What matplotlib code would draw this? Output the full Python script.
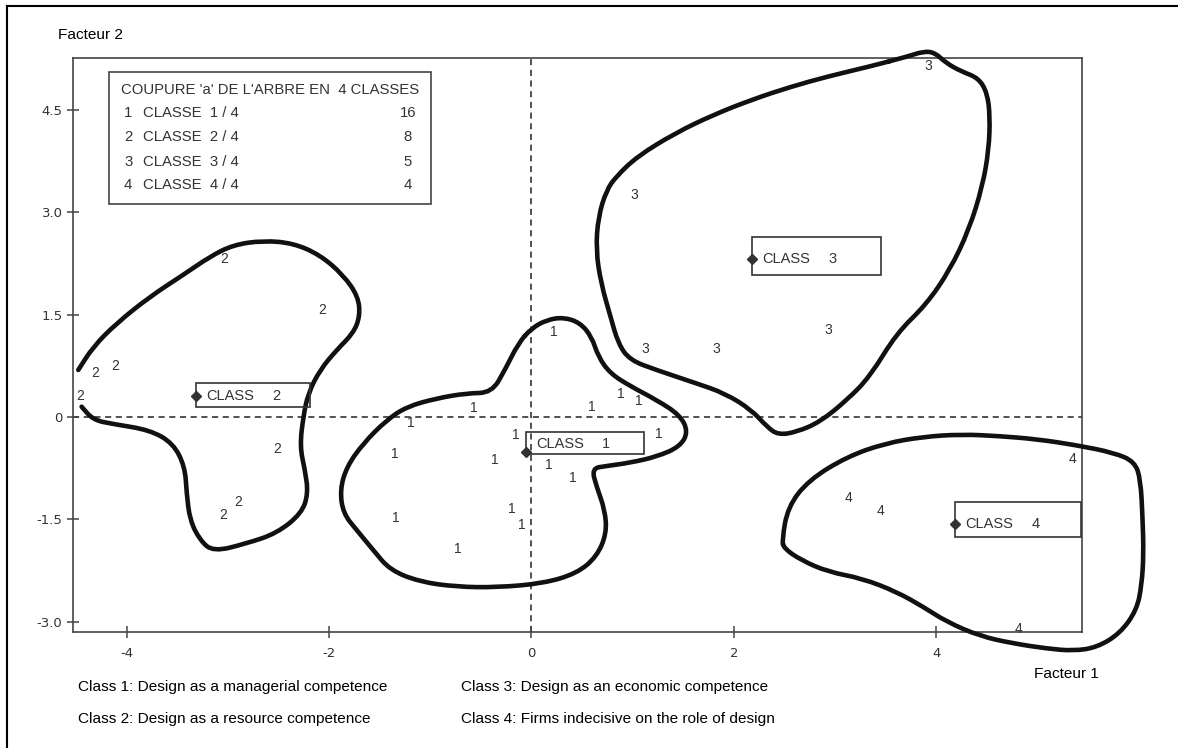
import numpy as np
import matplotlib
matplotlib.use("Agg")
import matplotlib.pyplot as plt
from matplotlib.path import Path
from matplotlib.patches import PathPatch, Rectangle
from matplotlib.lines import Line2D
from matplotlib.transforms import ScaledTranslation
from matplotlib import font_manager as fm

# ---------------------------------------------------------------- data
# individual firms on the first factorial plane (Facteur 1, Facteur 2)
class1_x = [0.22, -0.57, -1.19, 0.60, 0.88, 1.06, 1.26, -0.15,
            -1.35, -0.36, 0.17, 0.41, -1.34, -0.19, -0.10, -0.73]
class1_y = [1.24, 0.13, -0.09, 0.15, 0.33, 0.23, -0.25, -0.26,
            -0.54, -0.63, -0.70, -0.90, -1.48, -1.35, -1.58, -1.93]
class2_x = [-3.04, -2.07, -4.31, -4.11, -4.46, -2.51, -2.90, -3.05]
class2_y = [2.31, 1.57, 0.65, 0.74, 0.31, -0.47, -1.24, -1.44]
class3_x = [3.92, 1.02, 1.12, 1.83, 2.93]
class3_y = [5.14, 3.26, 0.99, 0.99, 1.27]
class4_x = [5.35, 3.13, 3.45, 4.81]
class4_y = [-0.62, -1.19, -1.37, -3.10]

# class centres
centre_x = [-0.05, -3.31, 2.18, 4.19]
centre_y = [-0.51, 0.31, 2.31, -1.57]
class_sizes = [16, 8, 5, 4]

# hand-drawn outlines around each class (Facteur 1, Facteur 2)
outline1_x = [0.002, 0.150, 0.314, 0.479, 0.595, 0.660, 0.776, 0.973, 1.237,
              1.467, 1.549, 1.467, 1.237, 0.973, 0.743, 0.595, 0.644, 0.726,
              0.743, 0.644, 0.447, 0.117, -0.344, -0.739, -1.102, -1.398,
              -1.563, -1.727, -1.860, -1.892, -1.826, -1.662, -1.431, -1.233,
              -0.937, -0.640, -0.393, -0.262, -0.130]
outline1_y = [1.301, 1.422, 1.462, 1.383, 1.177, 0.884, 0.641, 0.455, 0.249,
              0.029, -0.216, -0.435, -0.582, -0.670, -0.718, -0.752, -1.022,
              -1.364, -1.705, -2.048, -2.292, -2.438, -2.497, -2.488, -2.415,
              -2.243, -1.950, -1.657, -1.412, -1.070, -0.729, -0.386, -0.044,
              0.151, 0.274, 0.348, 0.356, 0.689, 1.081]

outline2_x = [-4.478, -4.330, -4.099, -3.770, -3.441, -3.177, -2.947, -2.650,
              -2.354, -2.090, -1.860, -1.711, -1.695, -1.761, -1.925, -2.090,
              -2.206, -2.255, -2.288, -2.238, -2.206, -2.271, -2.518, -2.814,
              -3.144, -3.276, -3.375, -3.407, -3.424, -3.540, -3.770, -4.132,
              -4.330, -4.445]
outline2_y = [0.689, 1.031, 1.374, 1.764, 2.082, 2.350, 2.522, 2.585, 2.547,
              2.375, 2.082, 1.764, 1.471, 1.227, 0.982, 0.689, 0.348, 0.004,
              -0.435, -0.777, -1.119, -1.412, -1.705, -1.852, -1.975, -1.804,
              -1.510, -1.119, -0.729, -0.386, -0.191, -0.103, -0.044, 0.151]

outline3_x = [3.720, 3.871, 3.984, 4.097, 4.248, 4.418, 4.504, 4.531, 4.519,
              4.456, 4.323, 4.135, 3.898, 3.608, 3.344, 3.118, 2.854, 2.628,
              2.439, 2.326, 2.175, 1.911, 1.610, 1.233, 0.969, 0.856, 0.781,
              0.687, 0.637, 0.660, 0.743, 0.837, 1.044, 1.421, 1.798, 2.175,
              2.552, 2.929, 3.344]
outline3_y = [5.283, 5.356, 5.342, 5.186, 5.063, 4.966, 4.746, 4.403, 3.915,
              3.377, 2.742, 2.155, 1.642, 1.227, 0.591, 0.249, -0.069, -0.216,
              -0.264, -0.142, 0.103, 0.348, 0.503, 0.689, 0.836, 1.081, 1.471,
              1.960, 2.449, 2.937, 3.328, 3.523, 3.817, 4.160, 4.428, 4.648,
              4.834, 4.990, 5.136]

outline4_x = [2.476, 2.534, 2.740, 3.118, 3.494, 3.871, 4.248, 4.625, 5.002,
              5.379, 5.755, 5.962, 6.019, 6.038, 6.049, 6.030, 5.980, 5.815,
              5.585, 5.354, 5.091, 4.761, 4.432, 4.103, 3.872, 3.609, 3.268,
              2.929, 2.665, 2.495]
outline4_y = [-1.804, -1.315, -0.924, -0.582, -0.386, -0.289, -0.254, -0.279,
              -0.327, -0.411, -0.523, -0.655, -0.924, -1.462, -1.999, -2.463,
              -2.830, -3.172, -3.377, -3.427, -3.392, -3.318, -3.211, -3.001,
              -2.782, -2.562, -2.365, -2.268, -2.097, -1.925]

x_ticks = [-4, -2, 0, 2, 4]
x_tick_labels = ["-4", "-2", "0", "2", "4"]
y_ticks = [-3.0, -1.5, 0.0, 1.5, 3.0, 4.5]
y_tick_labels = ["-3.0", "-1.5", "0", "1.5", "3.0", "4.5"]

legend_title = "COUPURE 'a' DE L'ARBRE EN  4 CLASSES"
captions = ["Class 1: Design as a managerial competence",
            "Class 2: Design as a resource competence",
            "Class 3: Design as an economic competence",
            "Class 4: Firms indecisive on the role of design"]


# ---------------------------------------------------------------- fonts
def first_font(names):
    for n in names:
        try:
            fm.findfont(fm.FontProperties(family=n), fallback_to_default=False)
            return n
        except ValueError:
            continue
    return "DejaVu Sans"


NARROW = first_font(["Liberation Sans Narrow", "Arial Narrow"])
SANS = first_font(["Liberation Sans", "Arial", "DejaVu Sans"])
narrow_ok = NARROW != "DejaVu Sans"
if not narrow_ok:
    NARROW = SANS

plt.rcParams["axes.unicode_minus"] = False

W, H = 1178, 748
fig = plt.figure(figsize=(W / 100, H / 100), dpi=100)
fig.patch.set_facecolor("white")


def fx(px):
    return px / W


def fy(py):
    return 1 - py / H


ax = fig.add_axes([fx(73), fy(632), fx(1082) - fx(73), fy(58) - fy(632)])
ax.set_xlim(-4.53, 5.44)
ax.set_ylim(-3.15, 5.26)
for sp in ax.spines.values():
    sp.set_color("#444444")
    sp.set_linewidth(1.2)

ax.set_xticks(x_ticks)
ax.set_xticklabels(x_tick_labels)
ax.set_yticks(y_ticks)
ax.set_yticklabels(y_tick_labels)
ax.tick_params(direction="inout", length=9, width=1.1, color="#444444",
               labelsize=9.5, labelcolor="#333333")
ax.tick_params(axis="x", pad=6)
ax.tick_params(axis="y", pad=3)
for lab in ax.get_xticklabels() + ax.get_yticklabels():
    lab.set_family("DejaVu Sans")

# dashed origin axes
ax.axhline(0, color="#222222", lw=1.1, ls=(0, (4, 3)), zorder=1)
ax.axvline(0, color="#222222", lw=1.1, ls=(0, (4, 3)), zorder=1)


# ---------------------------------------------------------------- outlines
def smooth_path(xs, ys, closed=True):
    pts = np.column_stack([xs, ys])
    n = len(pts)
    verts, codes = [], []
    if closed:
        mids = (pts + np.roll(pts, -1, axis=0)) / 2
        verts.append(mids[-1])
        codes.append(Path.MOVETO)
        for i in range(n):
            verts += [pts[i], mids[i]]
            codes += [Path.CURVE3, Path.CURVE3]
    else:
        mids = (pts[:-1] + pts[1:]) / 2
        verts += [pts[0], mids[0]]
        codes += [Path.MOVETO, Path.LINETO]
        for i in range(1, n - 1):
            verts += [pts[i], mids[i]]
            codes += [Path.CURVE3, Path.CURVE3]
        verts.append(pts[-1])
        codes.append(Path.LINETO)
    return Path(verts, codes)


outlines = [(outline1_x, outline1_y, True),
            (outline2_x, outline2_y, False),
            (outline3_x, outline3_y, True),
            (outline4_x, outline4_y, True)]
for ox, oy, closed in outlines:
    patch = PathPatch(smooth_path(ox, oy, closed), fill=False, lw=3.3,
                      ec="#111111", capstyle="round", joinstyle="round",
                      clip_on=False, zorder=3)
    ax.add_patch(patch)

# ---------------------------------------------------------------- points
groups = [(class1_x, class1_y), (class2_x, class2_y),
          (class3_x, class3_y), (class4_x, class4_y)]
for k, (gx, gy) in enumerate(groups, start=1):
    for x, y in zip(gx, gy):
        ax.text(x, y, str(k), ha="center", va="center", fontsize=10,
                color="#333333", family=SANS, zorder=4)

# ---------------------------------------------------------------- class boxes
# (width, height above centre, height below centre, label shift) in pixels
box_style = [(118, 19.7, 2.3, 8.0), (114, 13.3, 11.3, 0.0),
             (129, 22.0, 15.7, 0.0), (126, 21.7, 13.3, 0.0)]
for k, (cx, cy) in enumerate(zip(centre_x, centre_y), start=1):
    w, up, down, shift = box_style[k - 1]
    tr = fig.dpi_scale_trans + ScaledTranslation(cx, cy, ax.transData)
    ax.add_patch(Rectangle((0, -down / 100), w / 100, (up + down) / 100,
                           transform=tr, fill=False, ec="#333333", lw=1.2,
                           clip_on=False, zorder=4))
    ax.plot([cx], [cy], marker="D", ms=5.5, color="#333333", zorder=5,
            clip_on=False)
    ax.annotate("CLASS", (cx, cy), xytext=(10 * 0.72, shift * 0.72),
                textcoords="offset points", ha="left", va="center",
                fontsize=10.5, color="#333333", family=SANS, zorder=5)
    ax.annotate(str(k), (cx, cy), xytext=(80 * 0.72, shift * 0.72),
                textcoords="offset points", ha="center", va="center",
                fontsize=10.5, color="#333333", family=SANS, zorder=5)

# ---------------------------------------------------------------- legend box
leg_size = 12 if narrow_ok else 10.7
fig.add_artist(Rectangle((fx(109), fy(204)), fx(431) - fx(109),
                         fy(72) - fy(204), transform=fig.transFigure,
                         fill=False, ec="#444444", lw=1.2))
fig.text(fx(121), fy(90), legend_title, ha="left", va="center",
         fontsize=leg_size, color="#333333", family=NARROW)
for i, (row_y, n) in enumerate(zip([113.3, 137.3, 161.7, 185.0], class_sizes),
                               start=1):
    fig.text(fx(124), fy(row_y), str(i), ha="left", va="center",
             fontsize=leg_size, color="#333333", family=NARROW)
    fig.text(fx(143), fy(row_y), f"CLASSE  {i} / 4", ha="left", va="center",
             fontsize=leg_size, color="#333333", family=NARROW)
    fig.text(fx(408), fy(row_y), str(n), ha="center", va="center",
             fontsize=leg_size, color="#333333", family=NARROW)

# ---------------------------------------------------------------- outer texts
cap_size = 13.5 if narrow_ok else 11.1
fig.text(fx(58), fy(35), "Facteur 2", ha="left", va="center",
         fontsize=cap_size, color="black", family=NARROW)
fig.text(fx(1034), fy(674), "Facteur 1", ha="left", va="center",
         fontsize=cap_size, color="black", family=NARROW)
cap_pos = [(78, 687), (78, 719), (461, 687), (461, 719)]
for (px, py), txt in zip(cap_pos, captions):
    fig.text(fx(px), fy(py), txt, ha="left", va="center",
             fontsize=cap_size, color="black", family=NARROW)

# page frame (top and left rules)
fig.add_artist(Line2D([fx(7), 1.0], [fy(6), fy(6)], transform=fig.transFigure,
                      color="black", lw=1.5))
fig.add_artist(Line2D([fx(7), fx(7)], [0.0, fy(6)], transform=fig.transFigure,
                      color="black", lw=1.5))

fig.savefig("out.png", dpi=100, facecolor="white")
